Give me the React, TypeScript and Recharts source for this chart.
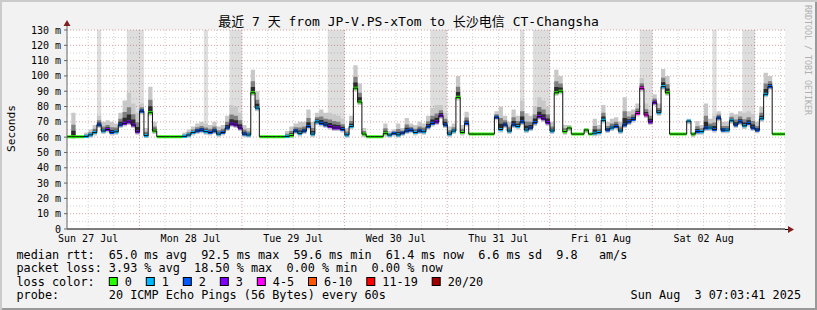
import React from "react"
import { ComposedChart, Area, Line, XAxis, YAxis, CartesianGrid } from "recharts"

const WIDTH = 817
const HEIGHT = 310
const FONT = "'DejaVu Sans Mono', 'Noto Sans CJK SC', monospace"

const TITLE = "最近 7 天 from JP-V.PS-xTom to 长沙电信 CT-Changsha"
const DAY_LABELS = ["Sun 27 Jul", "Mon 28 Jul", "Tue 29 Jul", "Wed 30 Jul", "Thu 31 Jul", "Fri 01 Aug", "Sat 02 Aug"]
// graph starts Sun 27 Jul 07:03, so the first midnight is 16.95 h in
const FIRST_MIDNIGHT = 16.95
const SPAN_HOURS = 168
const Y_TICKS = [0, 10, 20, 30, 40, 50, 60, 70, 80, 90, 100, 110, 120, 130]
const Y_MINOR = [5, 15, 25, 35, 45, 55, 65, 75, 85, 95, 105, 115, 125]
const MIN_RTT = 59.6

// hourly median rtt (ms)
const MEDIAN = [
  60.3, 60.3, 60.3, 60.3, 60.5, 61.5, 63, 68, 64, 65,
  63, 63.5, 68, 69, 70, 68, 63.5, 77, 61, 76,
  64, 60.3, 60.3, 60.3, 60.3, 60.3, 60.3, 60.5, 61.4, 63,
  64, 64.6, 63.6, 63, 64, 62, 63, 66, 68.6, 68,
  66, 62, 61.4, 89, 79, 60.3, 60.3, 60.3, 60.3, 60.3,
  60.3, 60.5, 61, 64, 62.5, 64, 67, 62, 70, 69,
  68, 67, 66, 66, 65, 61.5, 67, 92, 83, 62,
  60.3, 60.3, 60.3, 60.3, 62.5, 61.4, 62.5, 61.5, 62.7, 64,
  64.6, 63, 64, 63.5, 66.8, 69, 70, 74, 68, 62,
  64, 86, 63, 69, 62, 62, 62, 62, 62, 62,
  73, 65, 68, 64, 68, 67, 70, 64.7, 66, 69.5,
  73.4, 72, 69.5, 64, 89, 90, 63.6, 66, 62, 62,
  62, 64.7, 62, 62.6, 63, 71, 64.7, 66, 67, 64,
  68, 70, 71.6, 75.5, 91.9, 74.5, 70, 82.5, 76, 93,
  89, 62, 62, 62, 62, 70.5, 62, 63.6, 63.6, 66,
  66, 65, 72.5, 64.6, 64.6, 70.7, 68, 70, 67.4, 69,
  66, 64.6, 72, 88, 93, 62, 62, 62,
]

// hourly loss class (index into LOSS_LEVELS)
const LOSS = [
  0, 0, 0, 0, 1, 1, 1, 2, 1, 3,
  2, 1, 2, 3, 3, 3, 3, 2, 1, 0,
  0, 0, 0, 0, 0, 0, 0, 1, 1, 1,
  2, 2, 1, 2, 2, 1, 2, 2, 3, 3,
  3, 2, 1, 0, 1, 0, 0, 0, 0, 0,
  0, 1, 0, 2, 1, 2, 2, 1, 1, 2,
  2, 3, 3, 3, 2, 1, 1, 0, 0, 0,
  0, 0, 0, 0, 0, 1, 2, 1, 2, 2,
  2, 1, 2, 1, 2, 2, 3, 3, 2, 1,
  1, 0, 0, 2, 0, 0, 0, 0, 0, 0,
  2, 1, 2, 1, 2, 1, 2, 1, 2, 2,
  3, 3, 3, 1, 0, 0, 0, 0, 0, 0,
  0, 0, 0, 1, 1, 1, 2, 1, 2, 1,
  2, 2, 2, 4, 4, 4, 3, 3, 1, 1,
  0, 0, 0, 0, 0, 1, 0, 2, 1, 2,
  1, 2, 2, 2, 1, 1, 2, 2, 1, 2,
  2, 2, 1, 1, 2, 0, 0, 0,
]

// hourly top of the smoke (ms)
const SMOKE_TOP = [
  60.3, 76, 60.3, 60.3, 63, 65, 68, 74, 70, 71,
  70, 69, 76, 84, 89, 82, 76, 82, 66, 93,
  70, 60.3, 60.3, 60.3, 60.3, 60.3, 60.3, 63, 65, 67,
  69, 70, 69, 68, 70, 67, 68, 74, 81, 80,
  76, 68, 66, 104, 90, 60.3, 60.3, 60.3, 60.3, 60.3,
  60.3, 64, 67, 69, 70, 70, 78, 70, 76, 78,
  76, 76, 75, 74, 72, 66, 74, 107, 95, 66,
  60.3, 60.3, 60.3, 60.3, 69, 64, 65, 69, 66, 72.5,
  69, 68, 70, 69, 74, 79, 81, 81, 76, 67,
  69, 100, 68, 76.6, 62, 62, 62, 62, 62, 62,
  77, 80, 74, 70, 78, 74, 84, 75.6, 74, 80,
  86, 84, 80, 70, 104, 100, 68, 68, 62, 62,
  62, 66, 62, 72, 68, 81, 70, 72, 73, 70,
  86, 77, 78, 82, 98.6, 82, 78, 88, 82, 104.5,
  100, 62, 62, 62, 62, 72, 63, 70.5, 68, 82,
  72, 74, 77, 70, 70, 76, 75, 77, 76, 77,
  75, 70, 80, 102, 100, 62, 62, 62,
]

// hours where some pings went off the top of the graph
const TALL_SMOKE_HOURS = [7, 14, 15, 16, 17, 32, 38, 39, 40, 61, 62, 63, 64, 85, 86, 87, 88, 106, 109, 110, 111, 112, 134, 135, 136, 151, 158, 159, 160]

const LOSS_LEVELS = [
  { label: "0", color: "#26ff00" },
  { label: "1", color: "#00b8ff" },
  { label: "2", color: "#0059ff" },
  { label: "3", color: "#7e00ff" },
  { label: "4-5", color: "#ff00ff" },
  { label: "6-10", color: "#ff5500" },
  { label: "11-19", color: "#ff0000" },
  { label: "20/20", color: "#a10000" },
]

const RTT_LINE = "median rtt:  65.0 ms avg  92.5 ms max  59.6 ms min  61.4 ms now  6.6 ms sd  9.8   am/s"
const LOSS_LINE = "packet loss: 3.93 % avg  18.50 % max  0.00 % min  0.00 % now"
const PROBE_LINE = "probe:       20 ICMP Echo Pings (56 Bytes) every 60s"
const STAMP = "Sun Aug  3 07:03:41 2025"

const rows: Array<Record<string, any>> = MEDIAN.map((m, h) => {
  const top = SMOKE_TOP[h]
  const active = top > m
  const lo = active ? Math.max(MIN_RTT, m - 2) : m
  const row: Record<string, any> = {
    h,
    med: m,
    tall: TALL_SMOKE_HOURS.includes(h) ? [lo, 130] : [m, m],
    light: [lo, top],
    mid: active ? [m - 1, m + (top - m) * 0.5] : [m, m],
    dark: active ? [m - 0.6, m + (top - m) * 0.25] : [m, m],
  }
  LOSS_LEVELS.forEach((_, i) => {
    row[`loss${i}`] = LOSS[h] === i ? [m - 1, m + 1] : [m, m]
  })
  return row
})
// close the last step
rows.push({ ...rows[rows.length - 1], h: SPAN_HOURS })

const dayTicks = DAY_LABELS.map((_, i) => FIRST_MIDNIGHT - 12 + 24 * i)
const midnights = DAY_LABELS.map((_, i) => FIRST_MIDNIGHT + 24 * i).filter((v) => v < SPAN_HOURS)
const sixHours: number[] = []
for (let k = -3; k < 30; k++) {
  const v = FIRST_MIDNIGHT + 6 * k
  if (v > 0 && v < SPAN_HOURS && k % 4 !== 0) sixHours.push(v)
}

const CHAR_W = 7.1
const LEGEND_X = 16.5

function lossLegendItems() {
  const items: { x: number; label: string; color: string }[] = []
  let x = LEGEND_X + 13 * CHAR_W
  LOSS_LEVELS.forEach((l) => {
    items.push({ x, label: l.label, color: l.color })
    x += 16 + l.label.length * CHAR_W + 13.9
  })
  return items
}

export default function App() {
  const legendText = { fontFamily: FONT, fontSize: 11.8, fill: "#000", whiteSpace: "pre" as const }
  return (
    <div
      style={{
        position: "absolute",
        left: 0,
        top: 0,
        width: WIDTH,
        height: HEIGHT,
        background: "#f2f2f2",
        boxShadow: "inset 2px 2px 0 #cbcbcb, inset -2px -2px 0 #999999",
      }}
    >
      <ComposedChart width={WIDTH} height={HEIGHT} data={rows} margin={{ top: 30, right: 32, bottom: 61, left: 0 }}>
        <CartesianGrid
          fill="#ffffff"
          stroke="#d2d2d2"
          strokeDasharray="1 2"
          horizontalValues={Y_MINOR}
          verticalValues={sixHours}
        />
        <CartesianGrid
          fill="none"
          stroke="#d8a4a4"
          strokeDasharray="1 2"
          horizontalValues={Y_TICKS.slice(1)}
          verticalValues={midnights}
        />
        <XAxis
          type="number"
          dataKey="h"
          domain={[0, SPAN_HOURS]}
          ticks={dayTicks}
          interval={0}
          allowDataOverflow
          tickFormatter={(v: number) => DAY_LABELS[Math.round((v - dayTicks[0]) / 24)]}
          tick={{ fontSize: 10, fill: "#000", fontFamily: FONT }}
          tickLine={false}
          tickSize={0}
          tickMargin={6}
          axisLine={{ stroke: "#000" }}
          height={20}
        />
        <YAxis
          type="number"
          domain={[0, 130]}
          ticks={Y_TICKS}
          interval={0}
          allowDataOverflow
          width={67}
          tickFormatter={(v: number) => (v === 0 ? "0" : `${v} m`)}
          tick={{ fontSize: 10, fill: "#000", fontFamily: FONT }}
          tickSize={3}
          tickMargin={3}
          axisLine={{ stroke: "#666" }}
          tickLine={{ stroke: "#666" }}
        />
        <Area type="stepAfter" dataKey="tall" stroke="none" fill="#000" fillOpacity={0.13} dot={false} activeDot={false} isAnimationActive={false} />
        <Area type="stepAfter" dataKey="light" stroke="none" fill="#c8c8c8" fillOpacity={1} dot={false} activeDot={false} isAnimationActive={false} />
        <Area type="stepAfter" dataKey="mid" stroke="none" fill="#808080" fillOpacity={1} dot={false} activeDot={false} isAnimationActive={false} />
        <Area type="stepAfter" dataKey="dark" stroke="none" fill="#2a2a2a" fillOpacity={1} dot={false} activeDot={false} isAnimationActive={false} />
        <Line type="stepAfter" dataKey="med" stroke="#111" strokeWidth={1} dot={false} activeDot={false} isAnimationActive={false} />
        {LOSS_LEVELS.map((l, i) => (
          <Area
            key={l.label}
            type="stepAfter"
            dataKey={`loss${i}`}
            stroke="none"
            fill={l.color}
            fillOpacity={1}
            dot={false}
            activeDot={false}
            isAnimationActive={false}
          />
        ))}
      </ComposedChart>

      <svg width={WIDTH} height={HEIGHT} style={{ position: "absolute", left: 0, top: 0, pointerEvents: "none" }}>
        {/* axis arrows */}
        <line x1={67} y1={30} x2={67} y2={25} stroke="#666" />
        <polygon points="63.5,26 70.5,26 67,20" fill="#7f1f1f" />
        <line x1={785} y1={229.5} x2={789} y2={229.5} stroke="#000" />
        <polygon points="788,226 788,233 794,229.5" fill="#7f1f1f" />

        <text x={WIDTH / 2} y={26} textAnchor="middle" style={{ fontFamily: FONT, fontSize: 13, fill: "#000", whiteSpace: "pre" }}>
          {TITLE}
        </text>
        <text x={14.5} y={128.5} transform="rotate(-90 14.5 128.5)" textAnchor="middle" style={{ fontFamily: FONT, fontSize: 11.2, fill: "#000" }}>
          Seconds
        </text>
        <text x={805} y={5} transform="rotate(90 805 5)" style={{ fontFamily: FONT, fontSize: 8.3, fill: "#b0b0b0", whiteSpace: "pre" }}>
          RRDTOOL / TOBI OETIKER
        </text>

        <text x={LEGEND_X} y={258.5} style={legendText}>{RTT_LINE}</text>
        <text x={LEGEND_X} y={272} style={legendText}>{LOSS_LINE}</text>
        <text x={LEGEND_X} y={285.5} style={legendText}>loss color:</text>
        {lossLegendItems().map((it) => (
          <g key={it.label}>
            <rect x={it.x + 0.5} y={277.5} width={8} height={8} fill={it.color} stroke="#000" strokeWidth={1} />
            <text x={it.x + 16} y={285.5} style={legendText}>{it.label}</text>
          </g>
        ))}
        <text x={LEGEND_X} y={299} style={legendText}>{PROBE_LINE}</text>
        <text x={801} y={299} textAnchor="end" style={legendText}>{STAMP}</text>
      </svg>
    </div>
  )
}
